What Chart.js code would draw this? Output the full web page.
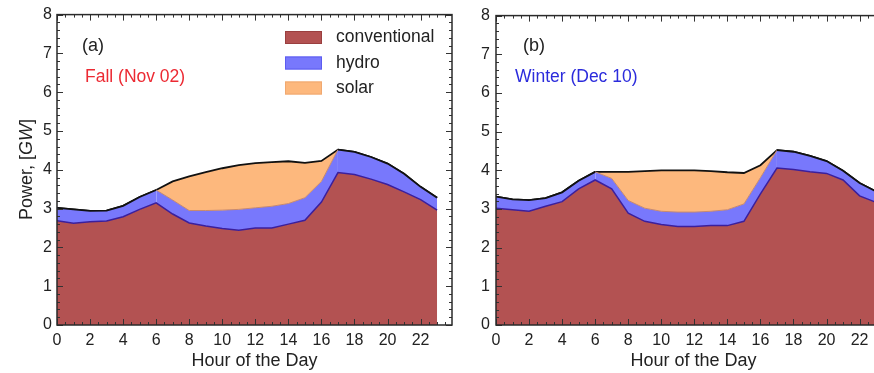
<!DOCTYPE html>
<html><head><meta charset="utf-8">
<script src="https://cdn.jsdelivr.net/npm/chart.js@4.4.0/dist/chart.umd.min.js"></script>
<style>
html,body{margin:0;padding:0;background:#fff;overflow:hidden;width:874px;height:373px;}
#wrap{position:relative;width:874px;height:373px;overflow:hidden;}
canvas{position:absolute;top:0;}
#ca{left:0;}
#cb{left:440px;}
</style></head><body>
<div id="wrap"><canvas id="ca" width="465" height="373"></canvas><canvas id="cb" width="460" height="373"></canvas></div>
<script>
const hours = [0,1,2,3,4,5,6,7,8,9,10,11,12,13,14,15,16,17,18,19,20,21,22,23];
const xTickLabels = [0,2,4,6,8,10,12,14,16,18,20,22];
const yTickLabels = [0,1,2,3,4,5,6,7,8];
const seriesLabels = ['conventional','hydro','solar'];

// Panel (a) Fall (Nov 02), GW
const fallConventional = [2.69,2.62,2.66,2.68,2.79,2.98,3.15,2.86,2.63,2.55,2.49,2.44,2.50,2.50,2.60,2.70,3.17,3.93,3.88,3.76,3.62,3.43,3.23,2.96];
const fallHydro        = [0.33,0.36,0.28,0.27,0.28,0.32,0.33,0.36,0.32,0.40,0.47,0.54,0.52,0.56,0.53,0.58,0.53,0.59,0.58,0.57,0.54,0.47,0.33,0.32];
const fallSolar        = [0,0,0,0,0,0,0,0.48,0.88,0.99,1.08,1.14,1.15,1.14,1.09,0.90,0.53,0,0,0,0,0,0,0];

// Panel (b) Winter (Dec 10), GW
const winterConventional = [3.02,2.98,2.94,3.07,3.19,3.52,3.75,3.52,2.89,2.68,2.60,2.55,2.55,2.57,2.57,2.68,3.39,4.06,4.02,3.96,3.92,3.75,3.34,3.17];
const winterHydro        = [0.30,0.27,0.29,0.21,0.24,0.21,0.21,0.27,0.33,0.34,0.34,0.37,0.37,0.37,0.41,0.45,0.42,0.46,0.46,0.41,0.32,0.24,0.33,0.28];
const winterSolar        = [0,0,0,0,0,0,0,0.17,0.74,0.96,1.06,1.08,1.08,1.04,0.97,0.80,0.32,0,0,0,0,0,0,0];

const FONT = '"Liberation Sans", Arial, Helvetica, sans-serif';
const colors = {
  conv: '#b35252', convLine: '#3b1f9c',
  hydro: '#7878fc', hydroLine: '#c98a6c',
  solar: '#fdb87d', total: '#111111'
};

const panelPlugin = {
  id: 'panel',
  afterDraw(chart, args, o) {
    const {ctx, chartArea: a, scales: {x, y}} = chart;
    ctx.save();
    // inward ticks on all four sides
    ctx.strokeStyle = '#333';
    ctx.lineWidth = 1;
    ctx.beginPath();
    for (let i = 0; i * 0.5 <= x.max; i++) {
      const v = i * 0.5;
      const px = Math.round(x.getPixelForValue(v)) + 0.5;
      const len = (i % 4 === 0) ? 6 : 3;
      ctx.moveTo(px, a.bottom); ctx.lineTo(px, a.bottom - len);
      ctx.moveTo(px, a.top); ctx.lineTo(px, a.top + len);
    }
    for (let i = 0; i <= 40; i++) {
      const v = i * 0.2;
      const py = Math.round(y.getPixelForValue(v)) + 0.5;
      const len = (i % 5 === 0) ? 6 : 3;
      ctx.moveTo(a.left, py); ctx.lineTo(a.left + len, py);
      ctx.moveTo(a.right, py); ctx.lineTo(a.right - len, py);
    }
    ctx.stroke();
    // frame
    ctx.lineWidth = 1.5;
    ctx.strokeStyle = '#2a2a2a';
    ctx.strokeRect(a.left, a.top, a.right - a.left, a.bottom - a.top);

    // panel tag and season
    ctx.textBaseline = 'middle';
    ctx.textAlign = 'left';
    ctx.fillStyle = '#222';
    ctx.font = '18px ' + FONT;
    ctx.fillText(o.tag, a.left + o.tagDx, 46);
    ctx.fillStyle = o.seasonColor;
    ctx.font = '17.5px ' + FONT;
    ctx.fillText(o.season, a.left + o.seasonDx, 77);

    // legend
    if (o.legend) {
      const ds = chart.data.datasets;
      const rows = [37.5, 63, 88];
      ds.forEach((d, i) => {
        ctx.fillStyle = d.backgroundColor;
        ctx.fillRect(285, rows[i] - 6.5, 37, 13);
        ctx.strokeStyle = d.legendEdge;
        ctx.lineWidth = 1;
        ctx.strokeRect(285.5, rows[i] - 6, 36, 12);
        ctx.fillStyle = '#222';
        ctx.font = '17.5px ' + FONT;
        ctx.fillText(d.label, 336, rows[i]);
      });
    }

    // y title with italic unit
    if (o.yTitle) {
      ctx.translate(27, 169.5);
      ctx.rotate(-Math.PI / 2);
      const parts = [['Power, [', 'normal'], ['GW', 'italic'], [']', 'normal']];
      let w = 0;
      parts.forEach(p => { ctx.font = p[1] + ' 18px ' + FONT; w += ctx.measureText(p[0]).width; });
      let cx = -w / 2;
      ctx.fillStyle = '#222';
      parts.forEach(p => { ctx.font = p[1] + ' 18px ' + FONT; ctx.fillText(p[0], cx, 0); cx += ctx.measureText(p[0]).width; });
    }
    ctx.restore();
  }
};

function makeChart(id, conv, hydro, solar, opt) {
  const pts = arr => hours.map((h, i) => ({x: h, y: arr[i]}));
  return new Chart(document.getElementById(id), {
    type: 'line',
    data: {
      datasets: [
        {label: seriesLabels[0], data: pts(conv), backgroundColor: colors.conv, borderColor: colors.convLine,
         borderWidth: 1.5, fill: 'origin', pointRadius: 0, tension: 0, legendEdge: '#9a3f3f'},
        {label: seriesLabels[1], data: pts(hydro), backgroundColor: colors.hydro, borderColor: colors.total,
         borderWidth: 1.8, fill: '-1', pointRadius: 0, tension: 0, legendEdge: '#5c5cf0',
         segment: {
           borderColor: c => (solar[c.p0DataIndex] === 0 && solar[c.p1DataIndex] === 0) ? colors.total : colors.hydroLine,
           borderWidth: c => (solar[c.p0DataIndex] === 0 && solar[c.p1DataIndex] === 0) ? 1.8 : 1
         }},
        {label: seriesLabels[2], data: pts(solar), backgroundColor: colors.solar, borderColor: colors.total,
         borderWidth: 1.8, fill: '-1', pointRadius: 0, tension: 0, legendEdge: '#f0a870'}
      ]
    },
    options: {
      responsive: false, animation: false, events: [],
      layout: {padding: {left: 0, right: opt.padRight, top: 14, bottom: 0}},
      plugins: {legend: {display: false}, tooltip: {enabled: false}, panel: opt.panel},
      scales: {
        x: {type: 'linear', min: 0, max: 23.9,
            afterBuildTicks: s => { s.ticks = xTickLabels.map(v => ({value: v})); },
            ticks: {color: '#222', font: {size: 16, family: FONT}, padding: 6, maxRotation: 0, autoSkip: false},
            grid: {display: false, drawTicks: false}, border: {display: false},
            title: {display: true, text: 'Hour of the Day', color: '#222', font: {size: 18, family: FONT}, padding: {top: 0, bottom: 1}},
            afterFit: s => { s.height = 48; }},
        y: {type: 'linear', stacked: true, min: 0, max: 8,
            afterBuildTicks: s => { s.ticks = yTickLabels.map(v => ({value: v})); },
            ticks: {color: '#222', font: {size: 16, family: FONT}, padding: opt.yPad},
            grid: {display: false, drawTicks: false}, border: {display: false},
            afterFit: s => { s.width = opt.yWidth; }}
      }
    },
    plugins: [panelPlugin]
  });
}

makeChart('ca', fallConventional, fallHydro, fallSolar, {
  padRight: 13, yWidth: 57, yPad: 5,
  panel: {tag: '(a)', tagDx: 25, season: 'Fall (Nov 02)', seasonColor: '#ec2a33', seasonDx: 28, legend: true, yTitle: true}
});
makeChart('cb', winterConventional, winterHydro, winterSolar, {
  padRight: 9, yWidth: 56, yPad: 6,
  panel: {tag: '(b)', tagDx: 27, season: 'Winter (Dec 10)', seasonColor: '#2b2bdc', seasonDx: 19, legend: false, yTitle: false}
});
</script>
</body></html>
